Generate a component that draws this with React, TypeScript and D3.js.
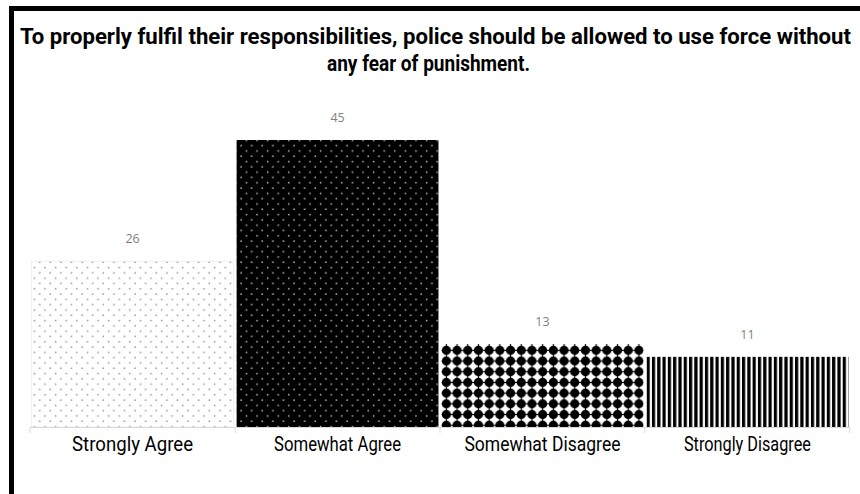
import React, { useEffect } from "react";
import * as d3 from "d3";

const categories = ["Strongly Agree", "Somewhat Agree", "Somewhat Disagree", "Strongly Disagree"];
const values = [26, 45, 13, 11];
const labelWidths = [121, 127, 156, 127];
const patternIds = ["pDotsLight", "pDotsDark", "pDiamond", "pStripes"];
const titleLines = [
  "To properly fulfil their responsibilities, police should be allowed to use force without",
  "any fear of punishment.",
];

const W = 860;
const H = 494;

export default function App() {
  useEffect(() => {
    document.body.style.overflow = "hidden";
    document.body.style.margin = "0";
  }, []);
  const x = d3.scaleBand<string>().domain(categories).range([30, 850]).paddingInner(0.015).paddingOuter(0.008);
  const y = d3.scaleLinear().domain([0, 45]).range([427, 140]);
  const boundaries = [30, ...categories.map((c) => (x(c) as number) + x.bandwidth() + (x.step() - x.bandwidth()) / 2)];
  const condensed = "Roboto, 'DejaVu Sans', sans-serif";

  return (
    <svg
      width={W}
      height={H}
      style={{ position: "fixed", left: 0, top: 0, background: "#fff", display: "block" }}
    >
      <defs>
        <pattern id="pDotsLight" width={10.6} height={10.6} patternUnits="userSpaceOnUse">
          <rect width={10.6} height={10.6} fill="#fff" />
          <circle cx={2.6} cy={2.6} r={0.85} fill="#9a9a9a" />
          <circle cx={7.9} cy={7.9} r={0.85} fill="#9a9a9a" />
        </pattern>
        <pattern id="pDotsDark" width={10.6} height={10.6} patternUnits="userSpaceOnUse">
          <rect width={10.6} height={10.6} fill="#000" />
          <circle cx={2.6} cy={2.6} r={0.85} fill="#b5b5b5" />
          <circle cx={7.9} cy={7.9} r={0.85} fill="#b5b5b5" />
        </pattern>
        <pattern id="pDiamond" width={10.7} height={10.7} patternUnits="userSpaceOnUse" x={441} y={345}>
          <rect width={10.7} height={10.7} fill="#fff" />
          <rect x={0} y={4.75} width={10.7} height={1.2} fill="#000" />
          <rect x={4.75} y={0} width={1.2} height={10.7} fill="#000" />
          <circle cx={5.35} cy={5.35} r={4.6} fill="#000" />
        </pattern>
        <pattern id="pStripes" width={5.3} height={10} patternUnits="userSpaceOnUse">
          <rect width={5.3} height={10} fill="#fff" />
          <rect x={0} width={3.2} height={10} fill="#000" />
        </pattern>
      </defs>

      {/* frame */}
      <rect x={9} y={6} width={W - 9} height={5} fill="#000" />
      <rect x={9} y={6} width={5} height={H - 6} fill="#000" />

      {/* title */}
      <g transform="translate(0,44) scale(1,1.2)">
        <text
          x={435.5}
          y={0}
          textAnchor="middle"
          fontFamily={condensed}
          fontWeight="bold"
          fontSize={19}
          textLength={831}
          lengthAdjust="spacingAndGlyphs"
          fill="#000"
        >
          {titleLines[0]}
        </text>
      </g>
      <g transform="translate(0,71) scale(1,1.2)">
        <text
          x={428.5}
          y={0}
          textAnchor="middle"
          fontFamily={condensed}
          fontWeight="bold"
          fontSize={19}
          textLength={203}
          lengthAdjust="spacingAndGlyphs"
          fill="#000"
        >
          {titleLines[1]}
        </text>
      </g>

      {/* bars */}
      {categories.map((c, i) => (
        <rect
          key={c}
          x={x(c)}
          y={y(values[i])}
          width={x.bandwidth()}
          height={y(0) - y(values[i])}
          fill={`url(#${patternIds[i]})`}
          stroke={i === 0 ? "#e6e6e6" : "none"}
          strokeWidth={0.6}
        />
      ))}

      {/* value labels */}
      {categories.map((c, i) => (
        <text
          key={c}
          x={(x(c) as number) + x.bandwidth() / 2}
          y={y(values[i]) - 18}
          textAnchor="middle"
          fontFamily="'Open Sans', sans-serif"
          fontSize={12.5}
          fill="#7f7f7f"
        >
          {values[i]}
        </text>
      ))}

      {/* axis */}
      <line x1={30} x2={850} y1={427.5} y2={427.5} stroke="#d9d9d9" strokeWidth={1} />
      {boundaries.map((b, i) => (
        <line key={i} x1={b} x2={b} y1={427.5} y2={433} stroke="#d9d9d9" strokeWidth={1} />
      ))}

      {/* category labels */}
      {categories.map((c, i) => (
        <text
          key={c}
          x={(x(c) as number) + x.bandwidth() / 2}
          y={451}
          textAnchor="middle"
          fontFamily={condensed}
          fontSize={21}
          textLength={labelWidths[i]}
          lengthAdjust="spacingAndGlyphs"
          fill="#000"
        >
          {c}
        </text>
      ))}
    </svg>
  );
}
